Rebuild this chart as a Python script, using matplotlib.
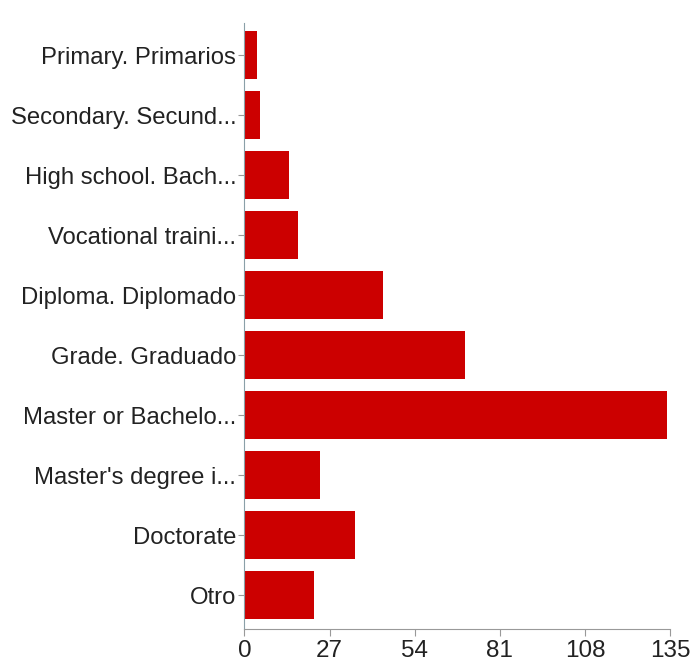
import matplotlib
matplotlib.use("Agg")
import matplotlib.pyplot as plt

categories = [
    "Primary. Primarios",
    "Secondary. Secund...",
    "High school. Bach...",
    "Vocational traini...",
    "Diploma. Diplomado",
    "Grade. Graduado",
    "Master or Bachelo...",
    "Master's degree i...",
    "Doctorate",
    "Otro",
]
counts = [4, 5, 14, 17, 44, 70, 134, 24, 35, 22]
xticks = [0, 27, 54, 81, 108, 135]

plt.rcParams["font.family"] = ["Liberation Sans", "DejaVu Sans"]

fig = plt.figure(figsize=(6.93, 6.66), dpi=100)
ax = fig.add_axes([0.3528, 0.0556, 0.6140, 0.9104])

pos = list(range(len(categories)))
ax.barh(pos, counts, height=0.8, color="#cc0000", edgecolor="none")

ax.set_xlim(0, 135)
ax.set_ylim(9.56, -0.54)
ax.set_xticks(xticks)
ax.set_xticklabels([str(t) for t in xticks], fontsize=17.5, color="#222222")
ax.set_yticks(pos)
ax.set_yticklabels(categories, fontsize=17.2, color="#222222")

for s in ["top", "right"]:
    ax.spines[s].set_visible(False)
ax.spines["left"].set_color("#8aa0a8")
ax.spines["bottom"].set_color("#999999")
ax.tick_params(axis="y", length=4, color="#999999", pad=2)
ax.tick_params(axis="x", length=5, color="#999999", pad=3)

fig.savefig("out.png", dpi=100)
